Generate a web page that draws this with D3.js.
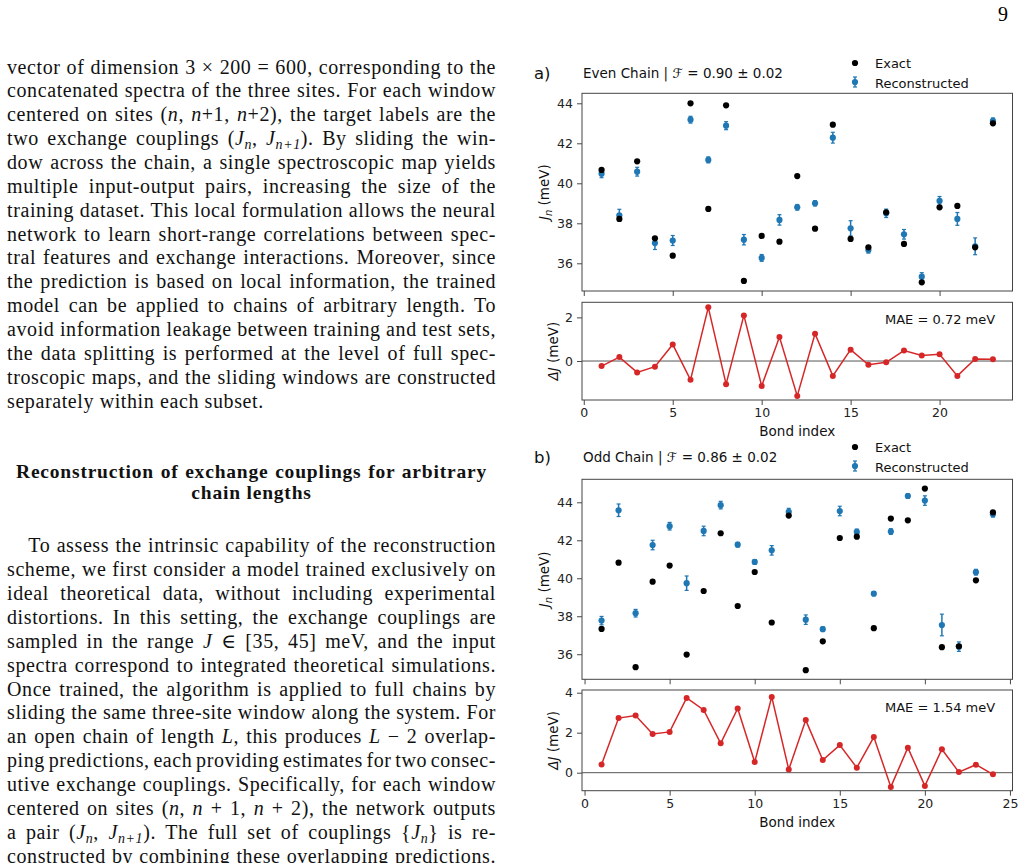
<!DOCTYPE html>
<html>
<head>
<meta charset="UTF-8">
<title>Exchange couplings</title>
<style>
  body { margin: 0; background: #ffffff; }
  svg { display: block; background: #ffffff; }
</style>
</head>
<body>
<div id="page"></div>
<script src="https://cdn.jsdelivr.net/npm/d3@7"></script>
<script>
// ---- data ----
const evenBonds = [1,2,3,4,5,6,7,8,9,10,11,12,13,14,15,16,17,18,19,20,21,22,23];
const evenExact = [40.67,38.22,41.10,37.25,36.38,44.00,38.72,43.90,35.12,37.37,37.08,40.36,37.73,42.93,37.22,36.80,38.55,36.97,35.05,38.80,38.87,36.80,43.00];
const evenRecon = [40.48,38.40,40.58,37.01,37.14,43.18,41.17,42.88,37.18,36.27,38.17,38.80,39.00,42.28,37.75,36.67,38.50,37.45,35.33,39.12,38.22,36.85,43.12];
const evenErr   = [0.20,0.30,0.22,0.32,0.25,0.17,0.15,0.20,0.26,0.17,0.26,0.14,0.13,0.27,0.38,0.16,0.21,0.24,0.20,0.22,0.32,0.42,0.15];
const evenDelta = [-0.23,0.18,-0.52,-0.26,0.76,-0.86,2.46,-1.06,2.09,-1.14,1.10,-1.60,1.25,-0.68,0.52,-0.17,-0.06,0.48,0.25,0.31,-0.68,0.09,0.08];

const oddBonds = [1,2,3,4,5,6,7,8,9,10,11,12,13,14,15,16,17,18,19,20,21,22,23,24];
const oddExact = [37.33,40.82,35.32,39.82,40.67,35.98,39.33,42.37,38.54,40.33,37.67,43.30,35.16,36.68,42.12,42.19,37.37,43.14,43.05,44.72,36.37,36.42,39.89,43.47];
const oddRecon = [37.77,43.58,38.16,41.75,42.74,39.74,42.49,43.85,41.77,40.86,41.47,43.50,37.82,37.32,43.54,42.44,39.19,42.46,44.33,44.09,37.54,36.40,40.32,43.37];
const oddErr   = [0.22,0.33,0.20,0.25,0.20,0.38,0.25,0.20,0.12,0.12,0.25,0.18,0.25,0.12,0.25,0.15,0.10,0.15,0.12,0.25,0.57,0.25,0.15,0.15];
const oddDelta = [0.41,2.73,2.86,1.94,2.04,3.74,3.14,1.47,3.21,0.53,3.79,0.16,2.63,0.63,1.38,0.25,1.78,-0.71,1.25,-0.66,1.17,0.03,0.40,-0.08];

const jTicks = [36,38,40,42,44];
const evenDeltaTicks = [0,2];
const oddDeltaTicks = [0,2,4];
const evenXTicks = [0,5,10,15,20];
const oddXTicks = [0,5,10,15,20,25];

const legendLabels = ["Exact", "Reconstructed"];

// ---- page text ----
const para1 = [
  "vector of dimension 3 × 200 = 600, corresponding to the",
  "concatenated spectra of the three sites. For each window",
  "centered on sites ([[i:n]], [[i:n]]+1, [[i:n]]+2), the target labels are the",
  "two exchange couplings ([[i:J]][[s:n]], [[i:J]][[s:n+1]]). By sliding the win-",
  "dow across the chain, a single spectroscopic map yields",
  "multiple input-output pairs, increasing the size of the",
  "training dataset. This local formulation allows the neural",
  "network to learn short-range correlations between spec-",
  "tral features and exchange interactions. Moreover, since",
  "the prediction is based on local information, the trained",
  "model can be applied to chains of arbitrary length. To",
  "avoid information leakage between training and test sets,",
  "the data splitting is performed at the level of full spec-",
  "troscopic maps, and the sliding windows are constructed",
  "separately within each subset."
];
const heading = ["Reconstruction of exchange couplings for arbitrary", "chain lengths"];
const para2 = [
  "To assess the intrinsic capability of the reconstruction",
  "scheme, we first consider a model trained exclusively on",
  "ideal theoretical data, without including experimental",
  "distortions. In this setting, the exchange couplings are",
  "sampled in the range [[i:J]] ∈ [35, 45] meV, and the input",
  "spectra correspond to integrated theoretical simulations.",
  "Once trained, the algorithm is applied to full chains by",
  "sliding the same three-site window along the system. For",
  "an open chain of length [[i:L]], this produces [[i:L]] − 2 overlap-",
  "ping predictions, each providing estimates for two consec-",
  "utive exchange couplings. Specifically, for each window",
  "centered on sites ([[i:n]], [[i:n]] + 1, [[i:n]] + 2), the network outputs",
  "a pair ([[i:J]][[s:n]], [[i:J]][[s:n+1]]). The full set of couplings {[[i:J]][[s:n]]} is re-",
  "constructed by combining these overlapping predictions."
];

const W = 1030, H = 863;
const serif = "'Liberation Serif', 'DejaVu Serif', serif";
const sans = "'DejaVu Sans', sans-serif";
const blue = "#1f77b4", red = "#d62728";

const svg = d3.select("#page").append("svg")
  .attr("width", W)
  .attr("height", H);

// writes one line of body text, optionally stretched to the column width
function textLine(str, x, y, width, justify, size, weight, spacing) {
  let t = svg.append("text")
    .attr("x", x).attr("y", y)
    .style("font-family", serif)
    .style("font-size", size + "px")
    .style("font-weight", weight || "normal")
    .style("letter-spacing", (spacing || 0) + "px")
    .attr("fill", "#111");
  let shift = 0;
  str.split(/(\[\[[is]:[^\]]*\]\])/).forEach(seg => {
    if (!seg) return;
    let m = seg.match(/^\[\[([is]):([^\]]*)\]\]$/);
    if (m && m[1] === "i") {
      t.append("tspan").attr("dy", -shift).style("font-style", "italic").text(m[2]);
      shift = 0;
    } else if (m && m[1] === "s") {
      t.append("tspan").attr("dy", 4 - shift).style("font-style", "italic")
        .style("font-size", (size * 0.7) + "px").text(m[2]);
      shift = 4;
    } else {
      t.append("tspan").attr("dy", -shift).text(seg);
      shift = 0;
    }
  });
  if (justify) {
    let natural = t.node().getBBox().width;
    let spaces = t.text().split(" ").length - 1;
    if (spaces > 0) t.style("word-spacing", ((width - natural) / spaces) + "px");
  }
  return t;
}

const colL = 7, colR = 496;
para1.forEach((s, i) => {
  textLine(s, colL, 73.5 + i * 23.86, colR - colL, i < para1.length - 1, 20, "normal", 0.6);
});
heading.forEach((s, i) => {
  let t = textLine(s, 0, 478.3 + i * 20.5, 0, false, 19.5, "bold", 0.8);
  let w = t.node().getBBox().width;
  if (i === 0) {
    let spaces = s.split(" ").length - 1;
    t.style("word-spacing", ((471 - w) / spaces) + "px");
    w = 471;
  }
  t.attr("x", 251.5 - w / 2);
});
para2.forEach((s, i) => {
  let x0 = i === 0 ? 28.3 : colL;
  textLine(s, x0, 551.7 + i * 23.97, colR - x0, true, 20, "normal", 0.6);
});

svg.append("text")
  .attr("x", 1008).attr("y", 21)
  .attr("text-anchor", "end")
  .style("font-family", serif).style("font-size", "20px")
  .text("9");

// ---- chart panels ----
const panels = [
  {
    tag: "a)", title: "Even Chain |  ", fid: " = 0.90 ± 0.02", mae: "MAE  = 0.72 meV",
    bonds: evenBonds, exact: evenExact, recon: evenRecon, err: evenErr, delta: evenDelta,
    xDomain: [-0.1, 24.1], xTicks: evenXTicks, dTicks: evenDeltaTicks,
    top: { y0: 93.3, y1: 291, domain: [34.615, 44.5] },
    bot: { y0: 302.3, y1: 400, domain: [-1.785, 2.69] },
    titleY: 77.7, legendY: 63
  },
  {
    tag: "b)", title: "Odd Chain |  ", fid: " = 0.86 ± 0.02", mae: "MAE  = 1.54 meV",
    bonds: oddBonds, exact: oddExact, recon: oddRecon, err: oddErr, delta: oddDelta,
    xDomain: [-0.15, 25.15], xTicks: oddXTicks, dTicks: oddDeltaTicks,
    top: { y0: 479.3, y1: 679.3, domain: [34.68, 45.21] },
    bot: { y0: 690, y1: 790.7, domain: [-0.9, 4.135] },
    titleY: 461.7, legendY: 447
  }
];

const axL = 582, axR = 1012.5;
const intFmt = d3.format("d");

function styleAxis(g) {
  g.select(".domain").remove();
  g.selectAll(".tick line").attr("stroke", "#333").attr("stroke-width", 0.9);
  g.selectAll(".tick text")
    .style("font-family", sans).style("font-size", "12.5px").attr("fill", "#222");
}

function frame(y0, y1) {
  svg.append("rect")
    .attr("x", axL).attr("y", y0)
    .attr("width", axR - axL).attr("height", y1 - y0)
    .attr("fill", "none").attr("stroke", "#444").attr("stroke-width", 1);
}

function errorMarker(g, cx, yLo, yHi, cy) {
  g.append("line").attr("x1", cx).attr("x2", cx).attr("y1", yLo).attr("y2", yHi)
    .attr("stroke", blue).attr("stroke-width", 1.5);
  [yLo, yHi].forEach(yy => g.append("line")
    .attr("x1", cx - 2).attr("x2", cx + 2).attr("y1", yy).attr("y2", yy)
    .attr("stroke", blue).attr("stroke-width", 1.2));
  g.append("circle").attr("cx", cx).attr("cy", cy).attr("r", 3.1).attr("fill", blue);
}

panels.forEach(p => {
  let x = d3.scaleLinear().domain(p.xDomain).range([axL, axR]);
  let y = d3.scaleLinear().domain(p.top.domain).range([p.top.y1, p.top.y0]);
  let yd = d3.scaleLinear().domain(p.bot.domain).range([p.bot.y1, p.bot.y0]);

  // upper axes: exact vs reconstructed couplings
  svg.append("g").attr("transform", "translate(" + axL + ",0)")
    .call(d3.axisLeft(y).tickValues(jTicks).tickFormat(intFmt).tickSize(5).tickPadding(4))
    .call(styleAxis);
  svg.append("g").attr("transform", "translate(0," + p.top.y1 + ")")
    .call(d3.axisBottom(x).tickValues(p.xTicks).tickSize(5).tickFormat(""))
    .call(styleAxis);

  let pts = svg.append("g");
  p.bonds.forEach((b, i) => {
    errorMarker(pts, x(b), y(p.recon[i] - p.err[i]), y(p.recon[i] + p.err[i]), y(p.recon[i]));
  });
  pts.selectAll(".exact")
    .data(p.bonds)
    .enter()
    .append("circle")
    .attr("cx", d => x(d))
    .attr("cy", (d, i) => y(p.exact[i]))
    .attr("r", 3.1)
    .attr("fill", "#000");
  frame(p.top.y0, p.top.y1);

  // lower axes: difference
  svg.append("g").attr("transform", "translate(" + axL + ",0)")
    .call(d3.axisLeft(yd).tickValues(p.dTicks).tickFormat(intFmt).tickSize(5).tickPadding(4))
    .call(styleAxis);
  svg.append("g").attr("transform", "translate(0," + p.bot.y1 + ")")
    .call(d3.axisBottom(x).tickValues(p.xTicks).tickFormat(intFmt).tickSize(5).tickPadding(3))
    .call(styleAxis);

  svg.append("line")
    .attr("x1", axL).attr("x2", axR)
    .attr("y1", yd(0)).attr("y2", yd(0))
    .attr("stroke", "#555").attr("stroke-width", 1);

  let line = d3.line().x((d, i) => x(p.bonds[i])).y(d => yd(d));
  svg.append("path").datum(p.delta)
    .attr("d", line)
    .attr("fill", "none").attr("stroke", red).attr("stroke-width", 1.5);
  svg.append("g").selectAll("circle")
    .data(p.delta)
    .enter()
    .append("circle")
    .attr("cx", (d, i) => x(p.bonds[i]))
    .attr("cy", d => yd(d))
    .attr("r", 3)
    .attr("fill", red);
  frame(p.bot.y0, p.bot.y1);

  svg.append("text")
    .attr("x", 885).attr("y", p.bot.y0 + 22)
    .style("font-family", sans).style("font-size", "13px").attr("fill", "#111")
    .text(p.mae);

  // labels
  let jl = svg.append("text")
    .attr("transform", "translate(549," + ((p.top.y0 + p.top.y1) / 2) + ") rotate(-90)")
    .attr("text-anchor", "middle")
    .style("font-family", sans).style("font-size", "13.5px").attr("fill", "#111");
  jl.append("tspan").style("font-style", "italic").text("J");
  jl.append("tspan").attr("dy", 3).style("font-style", "italic").style("font-size", "10px").text("n");
  jl.append("tspan").attr("dy", -3).text(" (meV)");

  let dl = svg.append("text")
    .attr("transform", "translate(558," + ((p.bot.y0 + p.bot.y1) / 2) + ") rotate(-90)")
    .attr("text-anchor", "middle")
    .style("font-family", sans).style("font-size", "13.5px").attr("fill", "#111");
  dl.append("tspan").style("font-style", "italic").text("ΔJ");
  dl.append("tspan").text(" (meV)");

  svg.append("text")
    .attr("x", (axL + axR) / 2).attr("y", p.bot.y1 + 36)
    .attr("text-anchor", "middle")
    .style("font-family", sans).style("font-size", "13.5px").attr("fill", "#111")
    .text("Bond index");

  svg.append("text")
    .attr("x", 534).attr("y", p.titleY + 1)
    .style("font-family", sans).style("font-size", "16.5px").attr("fill", "#111")
    .text(p.tag);

  let tt = svg.append("text")
    .attr("x", 583).attr("y", p.titleY)
    .style("font-family", sans).style("font-size", "13.5px").attr("fill", "#111");
  tt.append("tspan").text(p.title);
  tt.append("tspan").style("font-style", "italic").text("ℱ");
  tt.append("tspan").text(p.fid);

  // legend
  let lg = svg.append("g");
  lg.append("circle").attr("cx", 855).attr("cy", p.legendY).attr("r", 3.1).attr("fill", "#000");
  errorMarker(lg, 855, p.legendY + 14, p.legendY + 24, p.legendY + 19);
  legendLabels.forEach((s, i) => {
    lg.append("text")
      .attr("x", 875).attr("y", p.legendY + 5 + i * 19.5)
      .style("font-family", sans).style("font-size", "13px").attr("fill", "#111")
      .text(s);
  });
});
</script>
</body>
</html>
